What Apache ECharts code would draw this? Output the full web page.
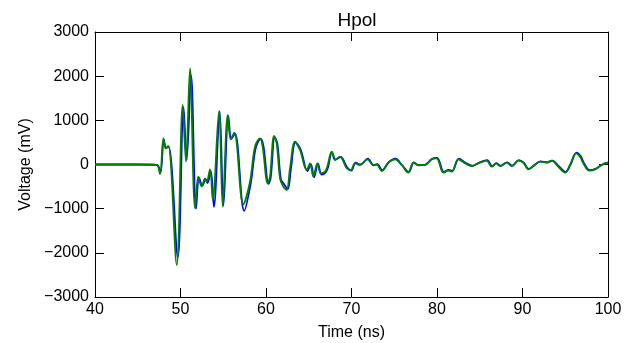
<!DOCTYPE html>
<html>
<head>
<meta charset="utf-8">
<script src="https://cdn.jsdelivr.net/npm/echarts@6/dist/echarts.min.js"></script>
<style>html,body{margin:0;padding:0;background:#fff}#c{width:633px;height:343px}</style>
</head>
<body>
<div id="c"></div>
<script>
const title = "Hpol";
const xName = "Time (ns)";
const yName = "Voltage (mV)";
const xTicks = [40, 50, 60, 70, 80, 90, 100];
const yTicks = [-3000, -2000, -1000, 0, 1000, 2000, 3000];

const blueTime = [40, 45, 47.25, 47.65, 48.05, 48.32, 48.62, 49.68, 50.36, 50.72, 51.24, 51.82, 52.18, 52.55, 52.95, 53.15, 53.55, 53.90, 54.58, 55.02, 55.60, 55.95, 56.38, 57.45, 58.22, 58.80, 59.38, 59.70, 60.30, 60.55, 61.02, 61.33, 61.74, 62.12, 62.55, 62.90, 63.45, 64.05, 64.85, 65.25, 65.62, 66.08, 66.50, 66.98, 67.25, 67.72, 68.15, 68.72, 69.50, 69.98, 70.48, 71.05, 71.90, 72.60, 73.02, 73.60, 74.36, 75.15, 75.92, 76.70, 77.30, 77.88, 78.66, 79.44, 80.02, 80.80, 81.38, 81.78, 82.55, 83.33, 84.12, 84.90, 85.87, 86.45, 86.95, 87.43, 88.21, 88.80, 89.58, 90.15, 90.74, 91.32, 92.10, 92.90, 93.48, 94.25, 95.02, 95.62, 96.32, 96.80, 97.17, 97.88, 98.54, 99.12, 99.70, 100];
const blueVolt = [0, 0, -10, -190, 560, 380, 400, -2100, 1300, 100, 2020, -1000, -300, -480, -330, -420, -150, -960, 1210, -930, 1100, 580, 700, -1050, -420, 380, 580, 420, -440, -300, 620, 470, -330, -450, -560, -120, 500, 340, -150, 10, -290, 20, -230, -180, -70, 280, 110, 170, -70, -140, 40, 0, 130, -20, 10, -130, 50, 130, -20, -170, 50, -20, 0, 130, 150, -170, -120, -150, 130, 40, -30, 40, 100, -40, 30, -30, 50, -30, 100, 40, -100, -30, 70, 50, 90, -40, -170, 0, 270, 190, 40, -130, -100, -30, 30, 40];

const greenTime = [40, 45, 47.2, 47.6, 48.0, 48.27, 48.57, 49.56, 50.26, 50.64, 51.11, 51.70, 52.08, 52.48, 52.87, 53.06, 53.45, 53.77, 54.50, 54.94, 55.52, 55.87, 56.29, 57.35, 58.13, 58.71, 59.30, 59.61, 60.20, 60.47, 60.94, 61.25, 61.64, 62.02, 62.42, 62.81, 63.39, 63.98, 64.76, 65.15, 65.53, 66.00, 66.40, 66.90, 67.17, 67.68, 68.07, 68.65, 69.44, 69.91, 70.41, 70.99, 71.85, 72.55, 72.95, 73.53, 74.30, 75.09, 75.87, 76.64, 77.23, 77.81, 78.60, 79.38, 79.96, 80.74, 81.32, 81.72, 82.49, 83.27, 84.06, 84.83, 85.81, 86.39, 86.90, 87.37, 88.15, 88.74, 89.51, 90.09, 90.68, 91.26, 92.05, 92.83, 93.42, 94.19, 94.97, 95.56, 96.26, 96.73, 97.11, 97.81, 98.48, 99.06, 99.65, 100];
const greenVolt = [0, 0, -10, -215, 590, 365, 420, -2275, 1347, 63, 2178, -992, -276, -500, -312, -390, -109, -800, 1200, -955, 1120, 570, 720, -900, -390, 403, 593, 400, -426, -276, 645, 480, -313, -500, -577, -86, 516, 328, -125, 27, -276, 27, -200, -163, -50, 290, 102, 177, -86, -125, 27, -11, 117, -11, 0, -147, 41, 117, -11, -185, 41, -11, -11, 117, 140, -185, -140, -163, 117, 27, -34, 27, 86, -50, 27, -34, 41, -34, 86, 41, -109, -34, 63, 41, 86, -50, -185, -11, 253, 177, 27, -140, -109, -34, 27, 40];

function pairs(t, v) { return t.map((x, i) => [x, v[i]]); }

const font = '"Liberation Sans", Arial, Helvetica, sans-serif';
const xMin = xTicks[0], xMax = xTicks[xTicks.length - 1];
const yMin = yTicks[0], yMax = yTicks[yTicks.length - 1];
const tickStyle = { show: true, inside: true, length: 9, lineStyle: { color: '#000', width: 1 } };
const lineStyle = { show: true, onZero: false, lineStyle: { color: '#000', width: 1 } };

const chart = echarts.init(document.getElementById('c'), null, { renderer: 'canvas' });
chart.setOption({
  animation: false,
  backgroundColor: '#fff',
  title: { text: title, left: 352, textAlign: 'center', top: 6,
    textStyle: { fontFamily: font, fontSize: 19, fontWeight: 'normal', color: '#000' } },
  grid: { left: 95, right: 25, top: 32, bottom: 46, containLabel: false, outerBoundsMode: 'none' },
  xAxis: [
    { type: 'value', min: xMin, max: xMax, interval: 10, position: 'bottom',
      name: xName, nameLocation: 'middle', nameGap: 28,
      nameTextStyle: { fontFamily: font, fontSize: 16, color: '#000' },
      axisLine: lineStyle, axisTick: tickStyle, splitLine: { show: false },
      axisLabel: { fontFamily: font, fontSize: 16, color: '#000', margin: 5 } },
    { type: 'value', min: xMin, max: xMax, interval: 10, position: 'top',
      axisLine: lineStyle, axisTick: tickStyle, splitLine: { show: false },
      axisLabel: { show: false } }
  ],
  yAxis: [
    { type: 'value', min: yMin, max: yMax, interval: 1000, position: 'left',
      name: yName, nameLocation: 'middle', nameGap: 55,
      nameTextStyle: { fontFamily: font, fontSize: 16, color: '#000' },
      axisLine: lineStyle, axisTick: tickStyle, splitLine: { show: false },
      axisLabel: { fontFamily: font, fontSize: 16, color: '#000', margin: 6,
        formatter: v => (v < 0 ? '\u2212' + Math.abs(v) : String(v)) } },
    { type: 'value', min: yMin, max: yMax, interval: 1000, position: 'right',
      axisLine: lineStyle, axisTick: tickStyle, splitLine: { show: false },
      axisLabel: { show: false } }
  ],
  series: [
    { type: 'line', name: 'blue', data: pairs(blueTime, blueVolt), showSymbol: false,
      smooth: 0.35, lineStyle: { color: '#0000ff', width: 1.8 }, xAxisIndex: 0, yAxisIndex: 0, z: 2 },
    { type: 'line', name: 'green', data: pairs(greenTime, greenVolt), showSymbol: false,
      smooth: 0.35, lineStyle: { color: '#008000', width: 1.8 }, xAxisIndex: 0, yAxisIndex: 0, z: 3 }
  ]
});
</script>
</body>
</html>
